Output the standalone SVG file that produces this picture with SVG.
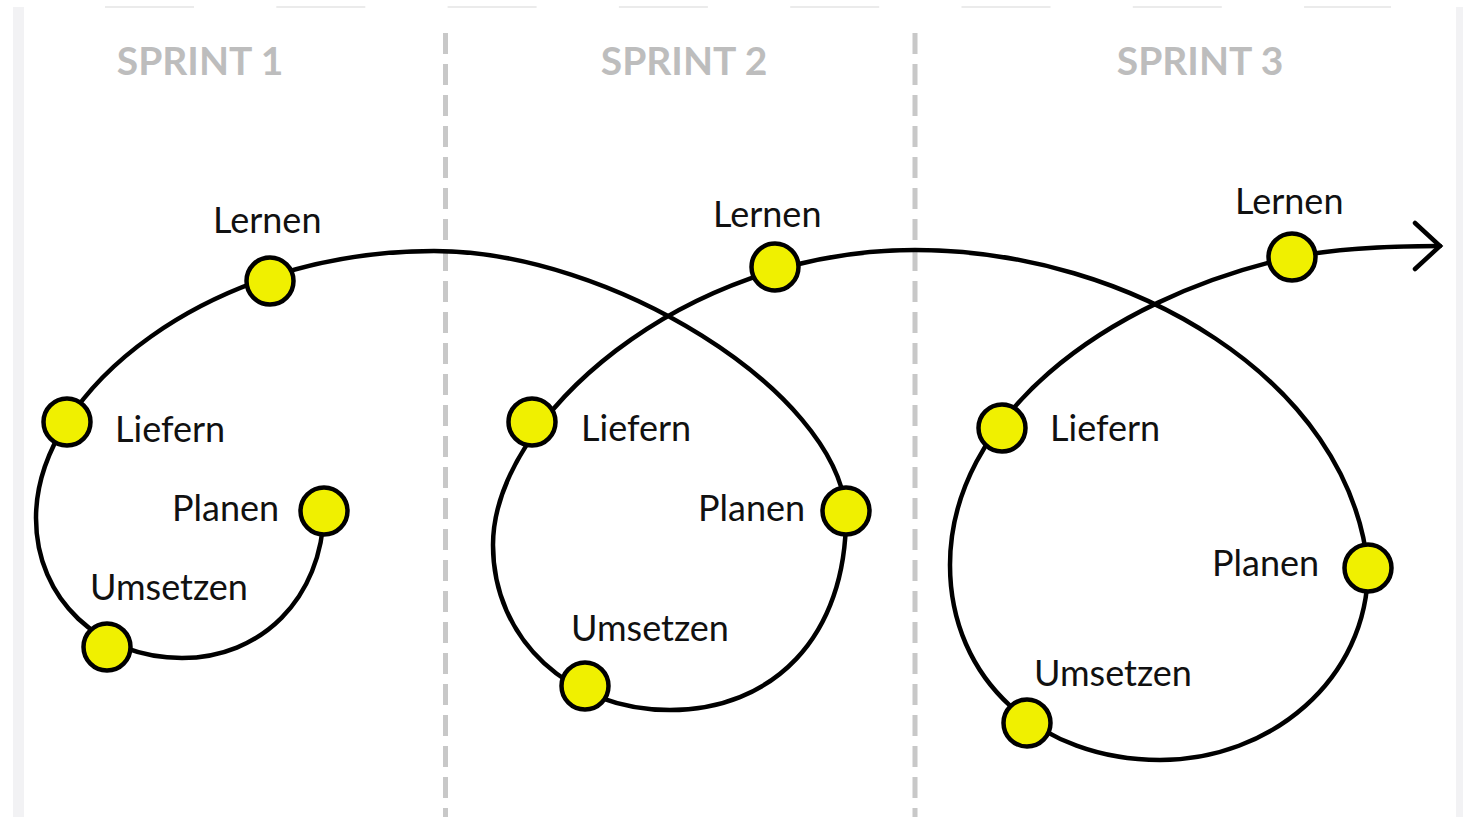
<svg xmlns="http://www.w3.org/2000/svg" width="1468" height="817" viewBox="0 0 1468 817">
  <style>
    .title { font-family: Lato, "Liberation Sans", sans-serif; font-weight: 700; font-size: 39px; fill: #bdbdbd; text-anchor: middle; }
    .lbl { font-family: Lato, "Liberation Sans", sans-serif; font-size: 36px; fill: #111; }
    .dot { fill: #f0f000; stroke: #000; stroke-width: 4.5; }
    .sep { stroke: #c8c8c8; stroke-width: 5; stroke-dasharray: 21 10; fill: none; }
    .spiral { fill: none; stroke: #000; stroke-width: 4.5; stroke-linecap: round; }
  </style>
  <defs>
    <marker id="arrow" markerUnits="userSpaceOnUse" markerWidth="40" markerHeight="60" viewBox="-30 -30 40 60" refX="0" refY="0" orient="auto">
      <path d="M -25,-23 L 0,0 L -25,23" fill="none" stroke="#000" stroke-width="4.5" stroke-linecap="round" stroke-linejoin="miter"/>
    </marker>
  </defs>
  <rect x="0" y="0" width="1468" height="817" fill="#ffffff"/>
  <g id="frame">
    <rect x="13" y="7" width="11" height="810" fill="#f2f2f4"/>
    <rect x="1456" y="7" width="7" height="810" fill="#f2f2f4"/>
    <line x1="105" y1="7" x2="1391" y2="7" stroke="#ebebeb" stroke-width="2" stroke-dasharray="89 82.3"/>
    <line class="sep" x1="445.5" y1="33" x2="445.5" y2="817"/>
    <line class="sep" x1="915" y1="33" x2="915" y2="817"/>
  </g>
  <g id="titles">
    <text class="title" x="200" y="75">SPRINT 1</text>
    <text class="title" x="684" y="75">SPRINT 2</text>
    <text class="title" x="1200" y="75">SPRINT 3</text>
  </g>
  <g id="connectors">
    <path class="spiral" marker-end="url(#arrow)" d="M 324,511 C 322,600 260,658 182,658 C 100,658 36,600 36,518 C 36,390 210,251 434,251 C 610,251 835,390 846,511 C 848,640 770,710 670,710 C 570,710 493,640 493,545 C 493,420 680,250 915,250 C 1130,250 1350,380 1368,568 C 1368,680 1270,760 1160,760 C 1040,760 950,680 950,565 C 950,420 1100,300 1292,257 C 1340,248 1390,246 1440,246"/>
  </g>
  <g id="s1-lernen"><circle class="dot" cx="270" cy="281" r="23.5"/><text class="lbl" x="213" y="233">Lernen</text></g>
  <g id="s1-liefern"><circle class="dot" cx="67" cy="422" r="23.5"/><text class="lbl" x="115" y="442">Liefern</text></g>
  <g id="s1-planen"><circle class="dot" cx="324" cy="511" r="23.5"/><text class="lbl" x="172" y="521">Planen</text></g>
  <g id="s1-umsetzen"><circle class="dot" cx="107" cy="647" r="23.5"/><text class="lbl" x="90" y="600">Umsetzen</text></g>
  <g id="s2-lernen"><circle class="dot" cx="775" cy="267" r="23.5"/><text class="lbl" x="713" y="227">Lernen</text></g>
  <g id="s2-liefern"><circle class="dot" cx="532" cy="422" r="23.5"/><text class="lbl" x="581" y="441">Liefern</text></g>
  <g id="s2-planen"><circle class="dot" cx="846" cy="511" r="23.5"/><text class="lbl" x="698" y="521">Planen</text></g>
  <g id="s2-umsetzen"><circle class="dot" cx="585" cy="686" r="23.5"/><text class="lbl" x="571" y="641">Umsetzen</text></g>
  <g id="s3-lernen"><circle class="dot" cx="1292" cy="257" r="23.5"/><text class="lbl" x="1235" y="214">Lernen</text></g>
  <g id="s3-liefern"><circle class="dot" cx="1002" cy="428" r="23.5"/><text class="lbl" x="1050" y="441">Liefern</text></g>
  <g id="s3-planen"><circle class="dot" cx="1368" cy="568" r="23.5"/><text class="lbl" x="1212" y="576">Planen</text></g>
  <g id="s3-umsetzen"><circle class="dot" cx="1027" cy="723" r="23.5"/><text class="lbl" x="1034" y="686">Umsetzen</text></g>
</svg>
